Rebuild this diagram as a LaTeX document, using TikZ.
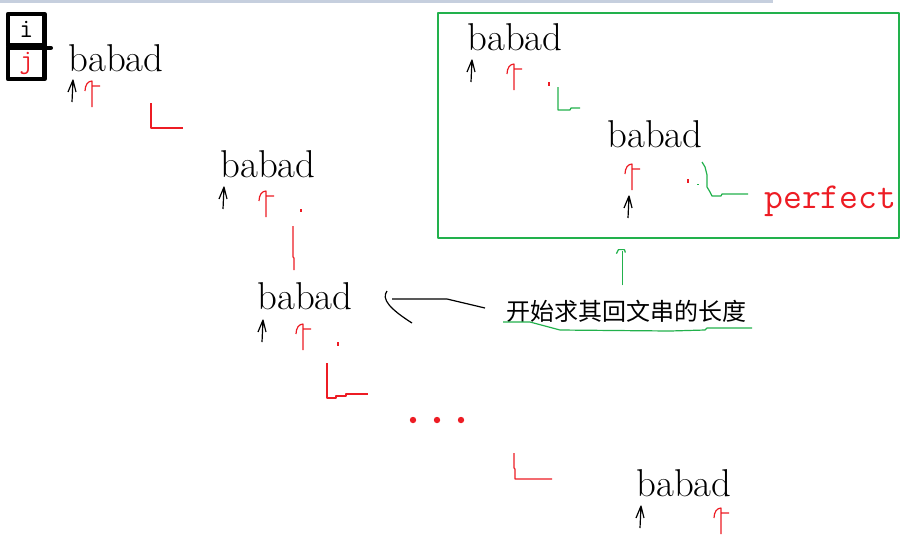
\documentclass[tikz,border=0pt]{standalone}
\usepackage{fontspec}
\newfontfamily\cjk{Noto Sans CJK SC}
\definecolor{pred}{RGB}{237,28,36}
\definecolor{pgreen}{RGB}{34,177,76}
\definecolor{topbar}{RGB}{198,207,222}
% hand drawn pointers under the letters
\newcommand{\blackptr}[1]{\draw[ink] (#1) ++(-5,12) -- ++(5,-12) -- ++(3,12) (#1) -- ++(-1,22);}
\newcommand{\redptr}[1]{\draw[redink] (#1) ++(-7,10) .. controls +(0,-6) and +(-4,0) .. ++(7,-10) -- ++(0,26) (#1) ++(0,5) -- ++(8,0);}
\begin{document}
\begin{tikzpicture}[x=0.5pt,y=-0.5pt,line join=round]
    \tikzstyle{word} = [anchor=base west,inner sep=0pt,font=\fontsize{19.4}{22}\selectfont]
    \tikzstyle{ink} = [black,line width=0.6pt]
    \tikzstyle{redink} = [pred,line width=0.6pt]
    \tikzstyle{greenink} = [pgreen,line width=0.6pt]
    \tikzstyle{ptrbox} = [draw,line width=2.25pt,minimum width=18.25pt,minimum height=15.75pt,inner sep=0pt,font=\ttfamily\fontsize{13.5}{14}\selectfont]
    \useasboundingbox (0,0) rectangle (904,548);
    \fill[topbar] (0,0) rectangle (773,2.5);

    % i / j legend
    \node [ptrbox] (i) at (26.25,29.75) {i};
    \node [ptrbox,text=pred] (j) at (26.25,63.25) {j};
    \draw [line width=2.25pt,line cap=round] (i.south east) -- ++(4,0);

    % the walk down the string
    \node [word] (b1) at (68,71) {babad};
    \node [word] (b2) at (220,177) {babad};
    \node [word] (b3) at (257,309) {babad};
    \node [word] (b4) at (636,496) {babad};
    \blackptr{73,80} \redptr{92,81}
    \blackptr{224,187} \redptr{266,191}
    \blackptr{263,320} \redptr{303,324}
    \blackptr{641,506} \redptr{721,508}
    \draw [redink] (301,209) -- (301,212);
    \draw [redink] (338,342) -- (338,346);
    \draw [redink] (151,103) -- (151,128) -- (183,128);
    \draw [redink] (293,226) -- (293,257) -- (294,258) -- (294,270);
    \draw [redink] (327,363) -- (327,398) -- (336,398) -- (336,396) -- (346,396) -- (346,394) -- (368,394);
    \foreach \x in {413,437,461}
      \fill [pred] (\x,420) circle (1.6pt);
    \draw [redink] (514,453) -- (514,468) -- (515,469) -- (515,479) -- (552,479);

    % the perfect case
    \node [draw=pgreen,line width=0.6pt,minimum width=230.5pt,minimum height=112.5pt,inner sep=0pt] (box) at (668.5,125.5) {};
    \node [word] (bt1) at (467,50) {babad};
    \node [word] (bt2) at (607,147) {babad};
    \node [anchor=base west,inner sep=0pt,text=pred,font=\ttfamily\fontsize{18.3}{20}\selectfont] (perfect) at (764,208) {perfect};
    \blackptr{472,60} \redptr{514,64}
    \redptr{632,164} \blackptr{629,196}
    \draw [redink] (549,82) -- (549,86);
    \draw [redink] (688,179) -- (688,183);
    \fill [pgreen] (697,183.5) rectangle (699,185);
    \draw [greenink] (558,87) -- (558,110) -- (570,110) -- (571,108) -- (580,108);
    \draw [greenink] (702,162) -- (705,167) -- (707,175) -- (707,187) -- (710,192) -- (712,196) -- (721,196) -- (722,194) -- (748,194);

    % the note
    \node [anchor=west,inner sep=0pt,font=\cjk\fontsize{12}{14}\selectfont] (note) at (506,311) {开始求其回文串的长度};
    \draw [greenink] (503,322) -- (530,322) -- (560,330) -- (670,331) -- (705,330) -- (707,328) -- (752,328);
    \draw [ink] ([shift={(-21,-3)}]note.west) -- ++(-38,-9) -- ++(-55,0) coordinate (tip);
    \draw [ink] (tip) ++(-5,-8) .. controls +(-6,8) and +(-22,-14) .. ++(25,32);
    \coordinate (gfoot) at ([shift={(-4,-14)}]note.north);
    \coordinate (ghead) at ([yshift=-6pt]gfoot |- box.south);
    \draw [greenink] (gfoot) -- (ghead);
    \draw [greenink] (ghead) ++(-6,3) -- ++(2,-4) -- ++(6,0) -- ++(1,3);
\end{tikzpicture}
\end{document}
